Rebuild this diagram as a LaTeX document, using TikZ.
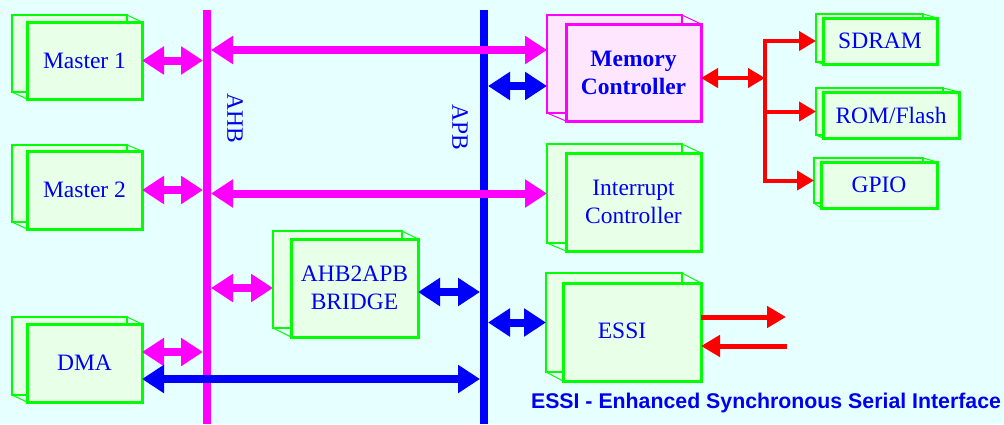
\documentclass[tikz,border=0pt]{standalone}
\usepackage{fontspec}
\setmainfont{Liberation Serif}
\newfontfamily\notesans{Liberation Sans}
\usetikzlibrary{arrows.meta,calc}

\definecolor{pagebg}{HTML}{E6FFFF}
\definecolor{boxgreen}{HTML}{00FF00}
\definecolor{fillgreen}{HTML}{E8FFE8}
\definecolor{boxpink}{HTML}{FF00FF}
\definecolor{fillpink}{HTML}{FFE6FF}
\definecolor{busmag}{HTML}{FF00FF}
\definecolor{busblue}{HTML}{0000FF}
\definecolor{txtblue}{HTML}{0000F0}
\definecolor{sigred}{HTML}{FF0000}

\newcommand\diagfont{\fontsize{23.5}{28}\selectfont}

\tikzset{
  page/.style={inner sep=0pt, outer sep=0pt, line join=miter},
  green back/.style={page, draw=boxgreen, fill=fillgreen, line width=2.5pt},
  green front/.style={page, draw=boxgreen, fill=fillgreen, line width=3pt,
    text=txtblue, font=\diagfont, align=center},
  green edge/.style={draw=boxgreen, line width=1pt},
  pink back/.style={page, draw=boxpink, fill=fillpink, line width=2.5pt},
  pink front/.style={page, draw=boxpink, fill=fillpink, line width=3pt,
    text=txtblue, font=\diagfont\bfseries, align=center},
  pink edge/.style={draw=boxpink, line width=1pt},
  bus/.style={inner sep=0pt, outer sep=0pt, minimum width=8pt, minimum height=414pt},
  buslabel/.style={rotate=-90, text=txtblue, font=\diagfont},
  magfat/.style={draw=busmag, line width=8pt, {Triangle[length=22pt,width=27pt]}-{Triangle[length=22pt,width=27pt]}},
  bluefat/.style={draw=busblue, line width=8pt, {Triangle[length=22pt,width=27pt]}-{Triangle[length=22pt,width=27pt]}},
  redwire/.style={draw=sigred, line width=4pt, line cap=rect},
  redboth/.style={draw=sigred, line width=4pt, {Triangle[length=17pt,width=19pt]}-{Triangle[length=17pt,width=19pt]}},
  redtip/.style={draw=sigred, line width=4pt, -{Triangle[length=17pt,width=19pt]}},
  redio/.style={draw=sigred, line width=5pt, -{Triangle[length=19pt,width=21pt]}},
}

% two stacked sheets: back sheet (centre, width, height), front sheet with text
% (centre, width, height), and the two edges joining their corners
\newcommand\docbox[9]{%
  \node[#2 back, minimum width=#4pt, minimum height=#5pt] (#1b) at (#3) {};
  \node[#2 front, minimum width=#7pt, minimum height=#8pt] (#1) at (#6) {#9};
  \draw[#2 edge] (#1b.north east) -- (#1.north east) (#1b.south west) -- (#1.south west);
}

\begin{document}
\begin{tikzpicture}[x=1pt,y=-1pt]
  \fill[pagebg] (0,0) rectangle (1004,424);
  \useasboundingbox (0,0) rectangle (1004,424);

  % buses
  \node[bus, fill=busmag] (ahb) at (207,217) {};
  \node[bus, fill=busblue] (apb) at (484,217) {};
  \node[buslabel] (ahbl) at (235,118) {AHB};
  \node[buslabel] (apbl) at (460,127) {APB};

  % masters
  \docbox{m1}{green}{69.5,53.5}{115}{77}{84.5,60.5}{115}{77}{Master 1}
  \docbox{m2}{green}{69.5,183.5}{115}{77}{84.5,190}{115}{78}{Master 2}
  \docbox{dma}{green}{69.5,356}{115}{78}{84.5,363}{115}{78}{DMA}

  % bridge and peripherals
  \docbox{bridge}{green}{337.5,279.5}{129}{97}{354.5,288}{127}{98}{AHB2APB\\BRIDGE}
  \docbox{mem}{pink}{614.5,64}{135}{98}{633.5,72.5}{135}{97}{Memory\\Controller}
  \docbox{intc}{green}{614.5,193.5}{135}{99}{633.5,202}{135}{98}{Interrupt\\Controller}
  \docbox{essi}{green}{614,322.5}{136}{99}{632,332}{138}{98}{\raisebox{3pt}{ESSI}\hspace*{20pt}}

  % external memories and I/O
  \docbox{sdram}{green}{869.5,38}{107}{48}{880,41}{114}{46}{SDRAM}
  \docbox{rom}{green}{879.5,111.5}{127}{47}{891,115}{136}{46}{ROM/Flash}
  \docbox{gpio}{green}{868.5,180.5}{109}{45}{879,185}{116}{46}{GPIO}

  % masters to buses
  \draw[magfat] (m1.east) -- (m1.east -| ahb.west);
  \draw[magfat] (m2.east) -- (m2.east -| ahb.west);
  \coordinate (dmaA) at ($(dma.east)+(0,-11)$);
  \draw[magfat] (dmaA) -- (dmaA -| ahb.west);
  \coordinate (dmaP) at ($(dma.east)+(0,16)$);
  \draw[bluefat] (dmaP) -- (dmaP -| apb.west);

  % buses to slaves
  \coordinate (memA) at ($(memb.west)+(0,-14)$);
  \draw[magfat] (memA -| ahb.east) -- (memA);
  \coordinate (memP) at ($(memb.west)+(0,22)$);
  \draw[bluefat] (memP -| apb.east) -- (memP);
  \draw[magfat] (intcb.west -| ahb.east) -- (intcb.west);
  \draw[magfat] (bridge.west -| ahb.east) -- (bridge.west -| bridgeb.west);
  \coordinate (brP) at ($(bridge.east)+(0,4)$);
  \draw[bluefat] (brP) -- (brP -| apb.west);
  \draw[bluefat] (essib.west -| apb.east) -- (essib.west);

  % memory controller fan-out
  \coordinate (split) at (765,78);
  \draw[redboth] (mem.east |- split) -- (split);
  \draw[redwire] (split |- sdram.west) -- (split |- gpiob.west);
  \draw[redtip] (split |- sdram.west) -- (sdramb.west |- sdram.west);
  \draw[redtip] (split |- romb.west) -- (romb.west);
  \draw[redtip] (split |- gpiob.west) -- (gpiob.west);

  % serial lines
  \coordinate (txend) at (786,317);
  \draw[redio] (essi.east |- txend) -- (txend);
  \coordinate (rxstart) at (787,346);
  \draw[redio] (rxstart) -- (rxstart -| essi.east);

  \node[font=\notesans\bfseries\fontsize{21.3}{24}\selectfont, text=txtblue] (note)
    at (766,403) {ESSI - Enhanced Synchronous Serial Interface};
\end{tikzpicture}
\end{document}
